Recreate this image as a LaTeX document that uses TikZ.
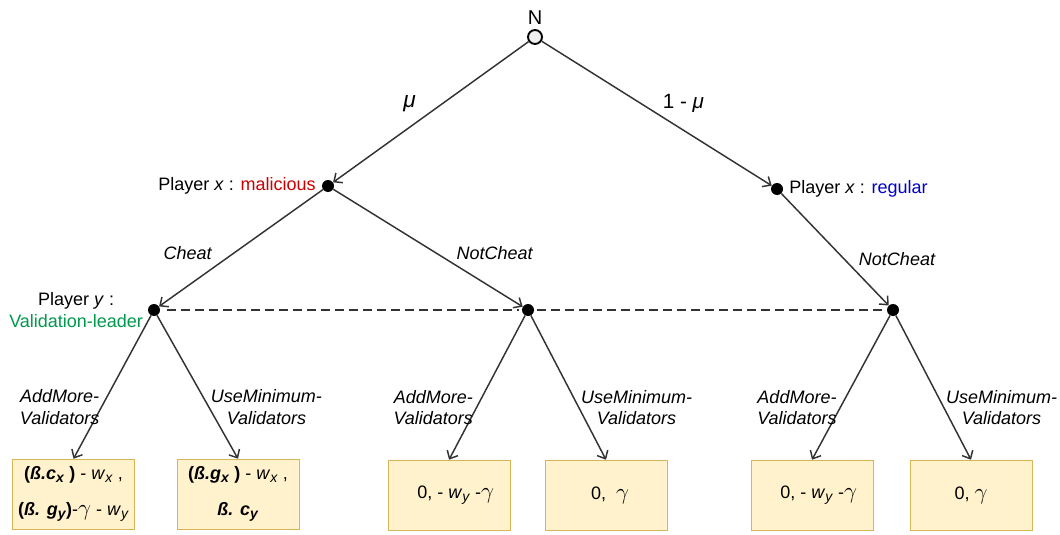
\documentclass[tikz,border=0pt]{standalone}
\usepackage{fontspec}
\setmainfont{Liberation Sans}
\usetikzlibrary{positioning}
\usetikzlibrary{arrows.meta}

\definecolor{linegray}{HTML}{333333}
\definecolor{malred}{HTML}{CC0000}
\definecolor{regblue}{HTML}{0000CC}
\definecolor{leadgreen}{HTML}{00994C}
\definecolor{payofffill}{HTML}{FFF2CC}
\definecolor{payoffborder}{HTML}{D6B656}

\newcommand{\itsub}[2]{\textit{#1}\raisebox{-0.35ex}{\fontsize{10.5}{11}\selectfont\textit{#2}}}
\newcommand{\gam}{{\fontsize{18}{18}\selectfont$\gamma$}}

\begin{document}
\begin{tikzpicture}[
            x=0.75pt, y=-0.75pt,
            font=\fontsize{13.5}{16}\selectfont,
            chancenode/.style={circle, draw=black, line width=1.4pt, fill=gray!12, minimum size=10.5pt, inner sep=0pt},
            decnode/.style={circle, fill=black, minimum size=9pt, inner sep=0pt},
            payoffnode/.style={rectangle, draw=payoffborder, fill=payofffill, minimum width=91.5pt, minimum height=52.5pt, align=center},
            edge/.style={draw=linegray, line width=1.1pt, -{Straight Barb[length=5pt,width=9pt]}},
            movelabel/.style={font=\fontsize{13.5}{16}\selectfont\itshape, align=center},
        ]
            \useasboundingbox (0,0) rectangle (1060,535);

            % Nodes
            \node[chancenode, label={[label distance=0pt, font=\fontsize{15}{16}\selectfont]above:N}] (nature) at (535,37) {};
            \node[decnode, label={[label distance=1pt]left:{Player \textit{x} : \textcolor{malred}{malicious}}}] (xmal) at (328,186) {};
            \node[decnode, label={[label distance=1pt]right:{Player \textit{x} : \textcolor{regblue}{regular}}}] (xreg) at (777,189) {};
            \node[decnode, label={[label distance=0pt, align=center]left:{Player \textit{y} :\\\textcolor{leadgreen}{Validation-leader}}}] (ylead) at (154,310) {};
            \node[decnode] (ymid) at (528,310) {};
            \node[decnode] (yright) at (893,310) {};

            \node[payoffnode] (payA) at (73.5,494) {{\bfseries(\textit{ß.}\itsub{c}{x} )} - \itsub{w}{x} ,\\[11pt]{\bfseries(\textit{ß.} \itsub{g}{y})}-\gam{} - \itsub{w}{y}};
            \node[payoffnode] (payB) at (238,494) {{\bfseries(\textit{ß.}\itsub{g}{x} )} - \itsub{w}{x} ,\\[11pt]\textbf{\textit{ß.} \itsub{c}{y}}};
            \node[payoffnode] (payC) at (449,495) {\hspace{10pt}0, - \itsub{w}{y}\ -\gam};
            \node[payoffnode] (payD) at (606,495) {\hspace{6pt}0, \ \gam};
            \node[payoffnode] (payE) at (812,495) {\hspace{10pt}0, - \itsub{w}{y}\ -\gam};
            \node[payoffnode] (payF) at (971,495) {0, \gam};

            % Lines
            \draw[edge] (nature) -- node[midway, xshift=-16pt, yshift=6pt, font=\fontsize{17}{18}\selectfont\itshape]{μ} (xmal);
            \draw[edge] (nature) -- node[midway, xshift=20pt, yshift=7.5pt, font=\fontsize{15.5}{17}\selectfont]{1 - \textit{μ}} (xreg);
            \draw[edge] (xmal) -- node[movelabel, midway, xshift=-40pt, yshift=-3.5pt]{Cheat} (ylead);
            \draw[edge] (xmal) -- node[movelabel, midway, xshift=50pt, yshift=-3.5pt]{NotCheat} (ymid);
            \draw[edge] (xreg) -- node[movelabel, midway, xshift=46.5pt, yshift=-7pt]{NotCheat} (yright);

            \draw[edge] (ylead) -- node[movelabel, pos=0.64, left, inner sep=1pt]{AddMore-\\Validators} (payA.north);
            \draw[edge] (ylead) -- node[movelabel, pos=0.64, right, inner sep=1pt]{UseMinimum-\\Validators} (payB.north);
            \draw[edge] (ymid) -- node[movelabel, pos=0.64, left, inner sep=2pt]{AddMore-\\Validators} (payC.north);
            \draw[edge] (ymid) -- node[movelabel, pos=0.64, right, inner sep=1pt]{UseMinimum-\\Validators} (payD.north);
            \draw[edge] (yright) -- node[movelabel, pos=0.64, left, inner sep=2pt]{AddMore-\\Validators} (payE.north);
            \draw[edge] (yright) -- node[movelabel, pos=0.64, right, inner sep=1pt]{UseMinimum-\\Validators} (payF.north);

            % information set
            \draw[linegray, line width=1.1pt, dash pattern=on 6.5pt off 4pt, shorten <=5pt, shorten >=2pt] (ylead) -- (ymid);
            \draw[linegray, line width=1.1pt, dash pattern=on 6.5pt off 4pt, shorten <=2pt, shorten >=2pt] (ymid) -- (yright);
        \end{tikzpicture}
\end{document}
